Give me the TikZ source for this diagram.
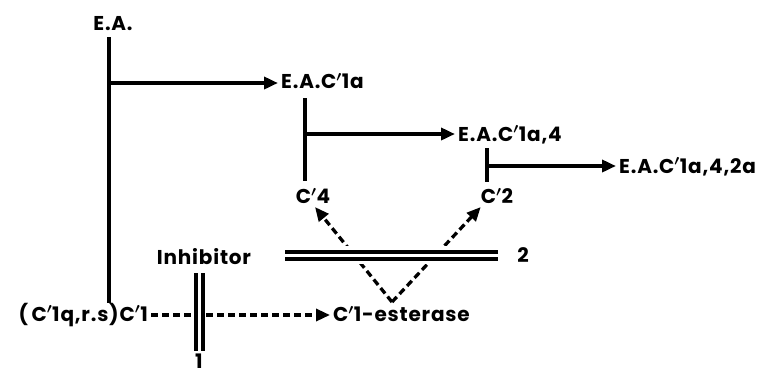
\documentclass[tikz,border=0pt]{standalone}
\usepackage{fontspec}
\setmainfont{Poppins}[LetterSpace=4]
\usetikzlibrary{arrows.meta,calc}
\newcommand\pr{\ensuremath{{}^{\prime}}}
\begin{document}
\begin{tikzpicture}[x=1pt,y=-1pt,
 lbl/.style={font=\fontsize{20}{22}\selectfont\bfseries\boldmath, inner sep=3pt},
 bar/.style={line width=3.6pt},
 arr/.style={line width=3.6pt,-{Triangle[length=14pt,width=12pt]}},
 darr/.style={line width=3.3pt, dash pattern=on 7pt off 4pt, -{Triangle[length=14pt,width=12pt]}},
 dbl/.style={double, double distance=3pt, line width=4pt}
]
\useasboundingbox[fill=white] (0,0) rectangle (768,376);
% labels
\node[lbl] (ea) at (113,24) {E.A.};
\node[lbl,anchor=west] (eac1a) at (278,81) {E.A.C\pr1a};
\node[lbl,anchor=west] (eac1a4) at (455,135) {E.A.C\pr1a,4};
\node[lbl,anchor=west] (eac1a42a) at (616,167) {E.A.C\pr1a,4,2a};
\node[lbl] (c4) at (313,196) {C\pr4};
\node[lbl] (c2) at (497,196) {C\pr2};
\node[lbl] (inh) at (204,257) {Inhibitor};
\node[lbl] (one) at (199,361) {1};
\node[lbl] (two) at (523,255) {2};
\node[lbl,anchor=east] (c1q) at (151,315) {(\,C\pr1q,r.s)C\pr1};
\node[lbl,anchor=west] (est) at (330,314) {C\pr1-esterase};
% coordinates
\coordinate (v1a) at (109,37);
\coordinate (v1b) at (109,303);
\coordinate (j1) at (109,83);
\coordinate (v2a) at (305,98);
\coordinate (v2b) at (305,181);
\coordinate (j2) at (305,134);
\coordinate (v3a) at (487,148);
\coordinate (v3b) at (487,182);
\coordinate (j3) at (487,166);
\coordinate (apex) at (392,302);
\coordinate (h1) at (285,255);
\coordinate (h2) at (498,255);
\coordinate (d1) at (199,273);
\coordinate (d2) at (199,351);
% solid connectors
\draw[bar] (v1a) -- (v1b);
\draw[arr] (j1) -- (j1 -| eac1a.west);
\draw[bar] (v2a) -- (v2b);
\draw[arr] (j2) -- (j2 -| eac1a4.west);
\draw[bar] (v3a) -- (v3b);
\draw[arr] (j3) -- (j3 -| eac1a42a.west);
% dashed connectors
\draw[darr] (c1q.east) -- (c1q.east -| est.west);
\draw[darr] (apex) -- ([xshift=2pt]c4.south);
\draw[darr] (apex) -- ([xshift=3pt]c2.south west);
% double bars
\draw[line width=18pt, white] (h1) -- (h2);
\draw[dbl] (h1) -- (h2);
\draw[dbl] (d1) -- (d2);
\end{tikzpicture}
\end{document}
